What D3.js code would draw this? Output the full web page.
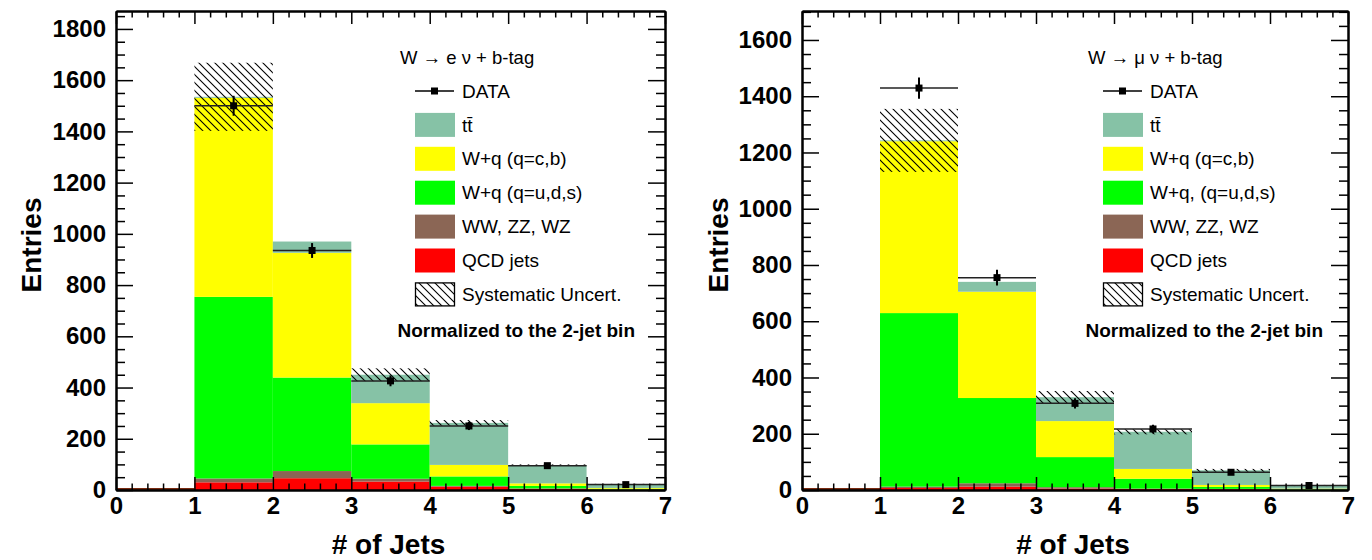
<!DOCTYPE html>
<html>
<head>
<meta charset="utf-8">
<script src="https://cdn.jsdelivr.net/npm/d3@7"></script>
<style>
  body { margin: 0; background: #fff; }
  svg { display: block; font-family: "Liberation Sans", Arial, Helvetica, sans-serif; }
</style>
</head>
<body>
<svg id="chart" width="1372" height="560"></svg>
<script>
// bins 1..6 (low edges), bin 0-1 is empty
var binLow = [1, 2, 3, 4, 5, 6];
var xTicks = [0, 1, 2, 3, 4, 5, 6, 7];

// electron channel
var eQCD  = [30, 46, 33, 13, 5, 2];
var eVV   = [15, 28, 11, 3, 1, 0];
var eWlf  = [709, 365, 134, 37, 10, 3];
var eWhf  = [777, 487, 161, 45, 10, 3];
var eTT   = [4, 44, 111, 164, 71, 14];
var eSyst = [133, 0, 25, 11, 3, 2];
var eData = [1500, 935, 426, 250, 95, 21];
var eErr  = [39, 29, 21, 16, 10, 5];
var eYTicks = [0, 200, 400, 600, 800, 1000, 1200, 1400, 1600, 1800];

// muon channel
var mQCD  = [7, 12, 5, 4, 3, 1];
var mVV   = [5, 12, 5, 1, 1, 0];
var mWlf  = [617, 303, 107, 35, 7, 2];
var mWhf  = [611, 378, 128, 35, 7, 2];
var mTT   = [3, 35, 85, 132, 52, 11];
var mSyst = [112, 0, 22, 9, 5, 2];
var mData = [1429, 755, 308, 217, 63, 16];
var mErr  = [38, 28, 18, 15, 8, 4];
var mYTicks = [0, 200, 400, 600, 800, 1000, 1200, 1400, 1600];

var keys = ['qcd', 'vv', 'wlf', 'whf', 'tt'];
var colors = { qcd: '#ff0000', vv: '#8b6655', wlf: '#00ff00', whf: '#ffff00', tt: '#86c2a6' };

var svg = d3.select('#chart');

var defs = svg.append('defs');
defs.append('pattern')
    .attr('id', 'hatch')
    .attr('patternUnits', 'userSpaceOnUse')
    .attr('width', 8).attr('height', 8)
  .append('path')
    .attr('d', 'M0,0 L8,8 M-2,6 L2,10 M6,-2 L10,2')
    .attr('stroke', '#000').attr('stroke-width', 1.1);

function drawPanel(p) {
    var x = d3.scaleLinear().domain([0, 7]).range([p.x0, p.x1]);
    var y = d3.scaleLinear().domain([0, p.ymax]).range([490, 11]);
    var g = svg.append('g');

    var rows = binLow.map(function(b, i) {
        return { bin: b, qcd: p.qcd[i], vv: p.vv[i], wlf: p.wlf[i], whf: p.whf[i], tt: p.tt[i],
                 syst: p.syst[i], data: p.data[i], err: p.err[i] };
    });
    var series = d3.stack().keys(keys)(rows);

    g.selectAll('.layer').data(series).enter().append('g')
        .attr('fill', function(d) { return colors[d.key]; })
      .selectAll('rect').data(function(d) { return d; }).enter().append('rect')
        .attr('x', function(d) { return x(d.data.bin); })
        .attr('width', function(d) { return x(d.data.bin + 1) - x(d.data.bin); })
        .attr('y', function(d) { return y(d[1]); })
        .attr('height', function(d) { return Math.max(0, y(d[0]) - y(d[1])); });

    // empty 0-1 bin outline
    g.append('line')
        .attr('x1', x(0)).attr('x2', x(1)).attr('y1', y(0) - 1).attr('y2', y(0) - 1)
        .attr('stroke', '#7a2a10').attr('stroke-width', 2);

    // systematic band
    var top = series[series.length - 1];
    g.selectAll('.syst').data(top.filter(function(d) { return d.data.syst > 0; })).enter().append('rect')
        .attr('x', function(d) { return x(d.data.bin); })
        .attr('width', function(d) { return x(d.data.bin + 1) - x(d.data.bin); })
        .attr('y', function(d) { return y(d[1] + d.data.syst); })
        .attr('height', function(d) { return y(d[1] - d.data.syst) - y(d[1] + d.data.syst); })
        .attr('fill', 'url(#hatch)');

    // data points
    var pts = g.selectAll('.pt').data(rows).enter().append('g');
    pts.append('line')
        .attr('x1', function(d) { return x(d.bin); })
        .attr('x2', function(d) { return x(d.bin + 1); })
        .attr('y1', function(d) { return y(d.data); })
        .attr('y2', function(d) { return y(d.data); })
        .attr('stroke', '#222').attr('stroke-width', 1.5);
    pts.append('line')
        .attr('x1', function(d) { return x(d.bin + 0.5); })
        .attr('x2', function(d) { return x(d.bin + 0.5); })
        .attr('y1', function(d) { return y(d.data - d.err); })
        .attr('y2', function(d) { return y(d.data + d.err); })
        .attr('stroke', '#000').attr('stroke-width', 2);
    pts.append('rect')
        .attr('x', function(d) { return x(d.bin + 0.5) - 3.5; })
        .attr('y', function(d) { return y(d.data) - 3.5; })
        .attr('width', 7).attr('height', 7)
        .attr('fill', '#000');

    // axes: ticks inside on all four sides
    var yMinor = d3.range(0, p.ymax, 50).filter(function(v) { return v % 200 !== 0; });
    var xMinor = d3.range(0, 7.01, 0.2).filter(function(v) { return Math.abs(v - Math.round(v)) > 0.01; });

    function styleAxis(sel) {
        sel.selectAll('.tick line').attr('stroke', '#000').attr('stroke-width', 1.5);
        sel.selectAll('.domain').attr('stroke', '#000').attr('stroke-width', 2);
        sel.selectAll('text').attr('fill', '#000').style('font-weight', 'bold').style('font-size', '24px');
    }

    g.append('g').attr('transform', 'translate(' + p.x0 + ',0)')
        .call(d3.axisLeft(y).tickValues(p.yTicks).tickSize(-17).tickSizeOuter(0).tickPadding(10).tickFormat(d3.format('d')))
        .call(styleAxis);
    g.append('g').attr('transform', 'translate(' + p.x0 + ',0)')
        .call(d3.axisLeft(y).tickValues(yMinor).tickSize(-9).tickSizeOuter(0).tickFormat(''))
        .call(styleAxis);
    g.append('g').attr('transform', 'translate(' + p.x1 + ',0)')
        .call(d3.axisRight(y).tickValues(p.yTicks).tickSize(-17).tickSizeOuter(0).tickFormat(''))
        .call(styleAxis);
    g.append('g').attr('transform', 'translate(' + p.x1 + ',0)')
        .call(d3.axisRight(y).tickValues(yMinor).tickSize(-9).tickSizeOuter(0).tickFormat(''))
        .call(styleAxis);
    g.append('g').attr('transform', 'translate(0,' + y(0) + ')')
        .call(d3.axisBottom(x).tickValues(xTicks).tickSize(-13).tickSizeOuter(0).tickPadding(7).tickFormat(d3.format('d')))
        .call(styleAxis);
    g.append('g').attr('transform', 'translate(0,' + y(0) + ')')
        .call(d3.axisBottom(x).tickValues(xMinor).tickSize(-6.5).tickSizeOuter(0).tickFormat(''))
        .call(styleAxis);
    g.append('g').attr('transform', 'translate(0,11)')
        .call(d3.axisTop(x).tickValues(xTicks).tickSize(-13).tickSizeOuter(0).tickFormat(''))
        .call(styleAxis);
    g.append('g').attr('transform', 'translate(0,11)')
        .call(d3.axisTop(x).tickValues(xMinor).tickSize(-6.5).tickSizeOuter(0).tickFormat(''))
        .call(styleAxis);

    // axis titles
    g.append('text')
        .attr('x', (p.x0 + p.x1) / 2 - 2).attr('y', 554)
        .attr('text-anchor', 'middle')
        .style('font-size', '28px').style('font-weight', 'bold')
        .text('# of Jets');
    g.append('text')
        .attr('transform', 'translate(' + p.titleX + ',245) rotate(-90)')
        .attr('text-anchor', 'middle')
        .style('font-size', '28px').style('font-weight', 'bold')
        .text('Entries');

    // legend
    var lg = g.append('g');
    lg.append('text').attr('x', p.lx - 15).attr('y', 58).attr('dy', '0.35em')
        .style('font-size', '18.5px').text(p.title);

    var items = [
        { label: 'DATA', type: 'data' },
        { label: 'tt\u0304', type: 'box', fill: colors.tt },
        { label: 'W+q (q=c,b)', type: 'box', fill: colors.whf },
        { label: p.lfLabel, type: 'box', fill: colors.wlf },
        { label: 'WW, ZZ, WZ', type: 'box', fill: colors.vv },
        { label: 'QCD jets', type: 'box', fill: colors.qcd },
        { label: 'Systematic Uncert.', type: 'hatch' }
    ];
    items.forEach(function(it, i) {
        var cy = 91 + i * 33.9;
        if (it.type === 'data') {
            lg.append('line').attr('x1', p.lx).attr('x2', p.lx + 39).attr('y1', cy).attr('y2', cy)
                .attr('stroke', '#000').attr('stroke-width', 1.5);
            lg.append('rect').attr('x', p.lx + 16).attr('y', cy - 3.5).attr('width', 7).attr('height', 7).attr('fill', '#000');
        } else if (it.type === 'box') {
            lg.append('rect').attr('x', p.lx).attr('y', cy - 12).attr('width', 40).attr('height', 24).attr('fill', it.fill);
        } else {
            lg.append('rect').attr('x', p.lx + 0.5).attr('y', cy - 11.5).attr('width', 39).attr('height', 23)
                .attr('fill', 'url(#hatch)').attr('stroke', '#000').attr('stroke-width', 1.3);
        }
        lg.append('text').attr('x', p.lx + 47).attr('y', cy).attr('dy', '0.35em')
            .style('font-size', '19px')
            .text(it.label);
    });
    lg.append('text').attr('x', p.normX).attr('y', 330).attr('dy', '0.35em')
        .attr('text-anchor', 'end')
        .style('font-size', '19px').style('font-weight', 'bold')
        .text('Normalized to the 2-jet bin');
}

drawPanel({
    x0: 116, x1: 665, ymax: 1870, yTicks: eYTicks,
    qcd: eQCD, vv: eVV, wlf: eWlf, whf: eWhf, tt: eTT, syst: eSyst, data: eData, err: eErr,
    title: 'W \u2192 e \u03bd + b-tag', lfLabel: 'W+q (q=u,d,s)',
    lx: 415, normX: 635, titleX: 41
});
drawPanel({
    x0: 802, x1: 1348, ymax: 1703, yTicks: mYTicks,
    qcd: mQCD, vv: mVV, wlf: mWlf, whf: mWhf, tt: mTT, syst: mSyst, data: mData, err: mErr,
    title: 'W \u2192 \u03bc \u03bd + b-tag', lfLabel: 'W+q, (q=u,d,s)',
    lx: 1103, normX: 1323, titleX: 728
});
</script>
</body>
</html>
